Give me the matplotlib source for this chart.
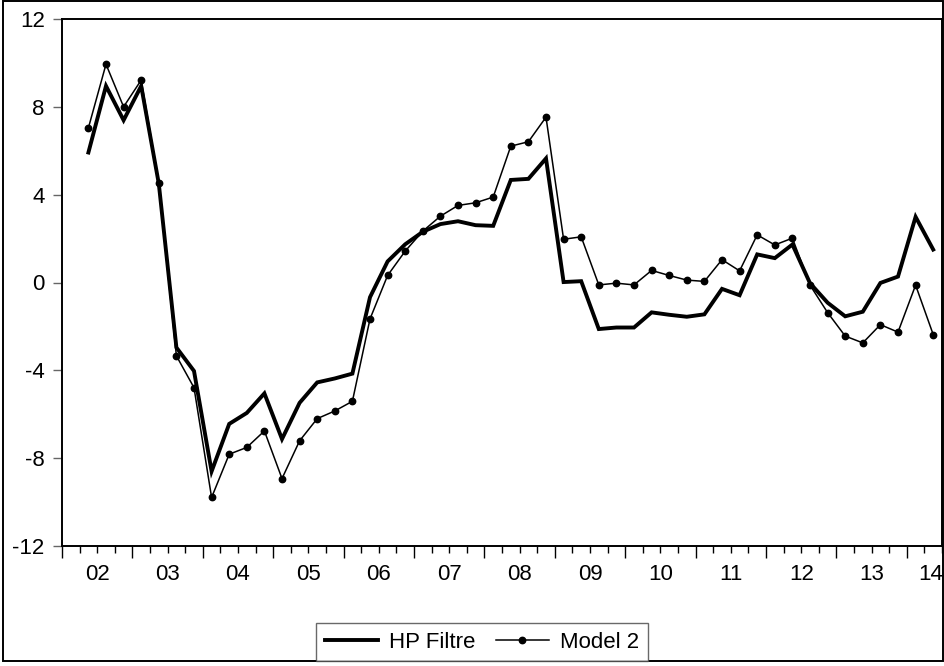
import numpy as np
import pandas as pd
import matplotlib
matplotlib.use("Agg")
import matplotlib.pyplot as plt
from matplotlib.patches import Rectangle
from matplotlib.ticker import FixedLocator, NullFormatter

plt.rcParams['font.family'] = ['Liberation Sans', 'DejaVu Sans']

# quarterly output gap, 2002Q2 - 2014Q2
quarters = pd.period_range('2002Q2', '2014Q2', freq='Q')
hp_filtre = [5.92, 8.95, 7.39, 8.95, 4.50, -2.96, -4.03, -8.60, -6.44, -5.94,
             -5.05, -7.13, -5.48, -4.55, -4.37, -4.15, -0.67, 0.96, 1.74, 2.31,
             2.66, 2.79, 2.61, 2.58, 4.67, 4.72, 5.65, 0.02, 0.06, -2.12,
             -2.05, -2.05, -1.36, -1.47, -1.56, -1.45, -0.29, -0.58, 1.28, 1.11,
             1.73, -0.03, -0.92, -1.54, -1.33, -0.02, 0.27, 2.99, 1.50]
model_2 = [7.04, 9.94, 8.00, 9.22, 4.52, -3.34, -4.79, -9.79, -7.82, -7.51,
           -6.76, -8.93, -7.21, -6.20, -5.85, -5.41, -1.66, 0.32, 1.43, 2.34,
           3.02, 3.51, 3.63, 3.89, 6.21, 6.41, 7.53, 1.97, 2.08, -0.11,
           -0.03, -0.11, 0.55, 0.32, 0.11, 0.05, 1.04, 0.53, 2.17, 1.71,
           2.02, -0.12, -1.37, -2.44, -2.75, -1.92, -2.26, -0.12, -2.37]
year_labels = ['02', '03', '04', '05', '06', '07', '08', '09', '10', '11', '12', '13', '14']
y_ticks = [-12, -8, -4, 0, 4, 8, 12]

# x in quarters since 2002Q1, each obs at the middle of its quarter
x = np.array([(p.year - 2002) * 4 + (p.quarter - 1) + 0.5 for p in quarters])

W, H = 944, 666
FS = 16
fig = plt.figure(figsize=(W / 100, H / 100), dpi=100)
ax = fig.add_axes([62 / W, (H - 546) / H, (942 - 62) / W, (546 - 19) / H])

ax.plot(x, hp_filtre, '-', color='black', lw=2.8, solid_joinstyle='miter', label='HP Filtre')
ax.plot(x, model_2, '-o', color='black', lw=1.1, ms=4.6, label='Model 2')

ax.set_xlim(0, 50)
ax.set_ylim(-12, 12)
ax.set_yticks(y_ticks)
ax.set_yticklabels([str(v) for v in y_ticks])
ax.xaxis.set_major_locator(FixedLocator(np.arange(0, 51, 4)))
ax.xaxis.set_minor_locator(FixedLocator(np.arange(0, 51, 1)))
ax.xaxis.set_major_formatter(NullFormatter())
ax.tick_params(axis='x', which='major', direction='out', length=8.5, width=1.0)
ax.tick_params(axis='x', which='minor', direction='out', length=5, width=1.0)
ax.tick_params(axis='y', direction='out', length=6.5, width=1.0, pad=6,
               labelsize=FS, color='#666666')

# year labels centred under each year; the last one is pulled in to the edge
for i, lab in enumerate(year_labels):
    last = i == len(year_labels) - 1
    ax.text(2 + 4 * i if not last else 50.05, -0.055, lab,
            transform=ax.get_xaxis_transform(),
            ha='right' if last else 'center', va='center', fontsize=FS,
            clip_on=False)

for s in ax.spines.values():
    s.set_linewidth(1.4)

# outer frame around the whole graph
fig.patches.append(Rectangle((3 / W, 5 / H), (943 - 3) / W, (665 - 5) / H,
                             transform=fig.transFigure, fill=False,
                             edgecolor='black', lw=1.4))

leg = fig.legend(loc='lower center', bbox_to_anchor=(482 / W, 5 / H), ncol=2,
                 fontsize=FS, frameon=True, fancybox=False, edgecolor='#444444',
                 borderaxespad=0, handlelength=2.4, columnspacing=0.9,
                 handletextpad=0.5, borderpad=0.38)
leg.get_frame().set_linewidth(1.0)

fig.savefig('out.png', dpi=100)
